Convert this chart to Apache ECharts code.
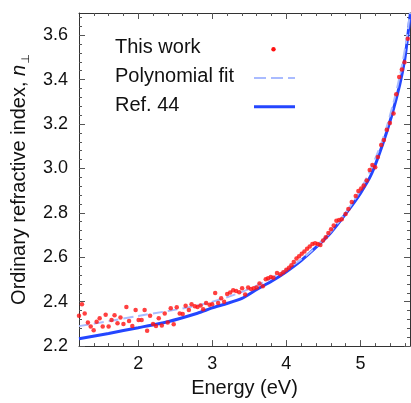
<!DOCTYPE html>
<html><head><meta charset="utf-8">
<script src="https://cdn.jsdelivr.net/npm/echarts@6/dist/echarts.min.js"></script>
<style>html,body{margin:0;padding:0;background:#fff}#c{width:411px;height:403px}</style>
</head><body><div id="c"></div>
<script>
// This work (measured points)
const workE = [1.200,1.240,1.277,1.320,1.358,1.398,1.438,1.479,1.520,1.560,1.600,1.640,1.680,1.720,1.760,1.800,1.840,1.876,1.920,1.965,
2.005,2.046,2.086,2.120,2.160,2.200,2.240,2.277,2.318,2.358,2.398,2.439,2.479,2.520,2.560,2.600,2.640,2.684,2.720,2.765,
2.800,2.842,2.877,2.917,2.963,2.998,3.039,3.079,3.120,3.160,3.201,3.241,3.282,3.322,3.363,3.403,3.444,3.484,3.524,3.560,
3.600,3.637,3.682,3.722,3.753,3.790,3.825,3.874,3.920,3.960,4.000,4.036,4.068,4.100,4.137,4.172,4.208,4.244,4.280,4.316,
4.352,4.388,4.424,4.460,4.496,4.532,4.568,4.604,4.640,4.676,4.712,4.748,4.800,4.838,4.883,4.937,4.973,5.010,5.045,5.085,
5.126,5.162,5.200,5.236,5.281,5.317,5.357,5.398,5.448,5.484,5.524,5.560,5.596,5.640];
const workN = [2.337,2.388,2.347,2.306,2.288,2.271,2.310,2.325,2.288,2.341,2.288,2.317,2.339,2.303,2.329,2.300,2.376,2.313,2.291,2.363,
2.317,2.317,2.363,2.269,2.337,2.300,2.291,2.325,2.293,2.347,2.306,2.370,2.298,2.375,2.347,2.344,2.382,2.363,2.388,2.379,
2.376,2.383,2.366,2.394,2.386,2.389,2.439,2.394,2.416,2.400,2.435,2.441,2.451,2.448,2.442,2.461,2.432,2.464,2.457,2.460,
2.464,2.482,2.469,2.501,2.505,2.511,2.508,2.529,2.523,2.532,2.544,2.553,2.564,2.579,2.594,2.605,2.616,2.626,2.638,2.648,
2.660,2.663,2.660,2.655,2.676,2.690,2.709,2.726,2.743,2.764,2.768,2.771,2.795,2.817,2.849,2.876,2.898,2.910,2.923,2.946,
2.993,3.015,3.005,3.052,3.106,3.128,3.174,3.205,3.247,3.334,3.412,3.446,3.478,3.584];
// Polynomial fit
const fitE = [1.2,1.6,2.0,2.4,2.8,3.2,3.6,4.0,4.3,4.6,4.9,5.1,5.3,5.45,5.55,5.62,5.67];
const fitN = [2.290,2.312,2.336,2.358,2.383,2.420,2.472,2.545,2.617,2.715,2.848,2.968,3.130,3.300,3.445,3.575,3.700];
// Ref. 44
const refE = [1.2,1.6,2.0,2.4,2.8,3.0,3.2,3.4,3.6,3.8,4.0,4.2,4.45,4.6,4.8,5.0,5.15,5.3,5.42,5.53,5.6,5.64,5.675];
const refN = [2.233,2.257,2.283,2.310,2.348,2.372,2.392,2.415,2.455,2.492,2.535,2.585,2.660,2.710,2.795,2.888,2.975,3.108,3.235,3.375,3.493,3.596,3.700];
// Ticks
const xMajor = [2,3,4,5];
const xMinor = [1.4,1.6,1.8,2.2,2.4,2.6,2.8,3.2,3.4,3.6,3.8,4.2,4.4,4.6,4.8,5.2,5.4,5.6];
const yMajor = [2.2,2.4,2.6,2.8,3.0,3.2,3.4,3.6];
const yMinor = [2.24,2.28,2.32,2.36,2.44,2.48,2.52,2.56,2.64,2.68,2.72,2.76,2.84,2.88,2.92,2.96,
3.04,3.08,3.12,3.16,3.24,3.28,3.32,3.36,3.44,3.48,3.52,3.56,3.64,3.68];
const xMin = 1.2, xMax = 5.67, yMin = 2.2, yMax = 3.7;

const zip = (a, b) => a.map((v, i) => [v, b[i]]);
const FONT = '"Liberation Sans", Arial, Helvetica, sans-serif';
const axisColor = '#333';
const tickColor = '#555';

function xAx(pos, major, labels) {
  return {
    type: 'value', position: pos, min: xMin, max: xMax,
    axisLine: { show: major, onZero: false, lineStyle: { color: axisColor, width: 1 } },
    axisTick: { show: true, inside: true, length: major ? 6 : 3, customValues: major ? xMajor : xMinor,
      lineStyle: { color: tickColor, width: 1 } },
    axisLabel: { show: labels, customValues: xMajor, fontSize: 18, color: '#111', fontFamily: FONT, margin: 9 },
    splitLine: { show: false },
    name: labels ? 'Energy (eV)' : '', nameLocation: 'middle', nameGap: 31,
    nameTextStyle: { fontSize: 20, color: '#111', fontFamily: FONT }
  };
}
function yAx(pos, major, labels) {
  return {
    type: 'value', position: pos, min: yMin, max: yMax,
    axisLine: { show: major, onZero: false, lineStyle: { color: axisColor, width: 1 } },
    axisTick: { show: true, inside: true, length: major ? 6 : 3, customValues: major ? yMajor : yMinor,
      lineStyle: { color: tickColor, width: 1 } },
    axisLabel: { show: labels, customValues: yMajor, fontSize: 18, color: '#111', fontFamily: FONT, margin: 11,
      formatter: v => v.toFixed(1) },
    splitLine: { show: false },
    name: labels ? '{t|Ordinary refractive index, }{i|n}{s|⊥}' : '', nameLocation: 'middle', nameGap: 44,
    nameRotate: 90,
    nameTextStyle: { fontSize: 20, color: '#111', fontFamily: FONT,
      rich: {
        t: { fontSize: 20, fontFamily: FONT, color: '#111', verticalAlign: 'bottom', padding: [0, 0, 3, 0] },
        i: { fontSize: 20, fontFamily: FONT, fontStyle: 'italic', color: '#111', verticalAlign: 'bottom', padding: [0, 0, 3, 0] },
        s: { fontSize: 11, fontFamily: '"DejaVu Sans", sans-serif', color: '#111', verticalAlign: 'bottom', padding: [0, 0, 0, 1] }
      } }
  };
}

const chart = echarts.init(document.getElementById('c'), null, { renderer: 'canvas' });
chart.setOption({
  animation: false,
  backgroundColor: '#fff',
  grid: { left: 79, right: 1, top: 13, bottom: 50, containLabel: false },
  xAxis: [xAx('bottom', true, true), xAx('bottom', false, false), xAx('top', true, false), xAx('top', false, false)],
  yAxis: [yAx('left', true, true), yAx('left', false, false), yAx('right', true, false), yAx('right', false, false)],
  series: [
    { name: 'Ref. 44', type: 'line', data: zip(refE, refN), showSymbol: false, smooth: 0.2,
      lineStyle: { color: '#2446ff', width: 3 }, z: 2 },
    { name: 'Polynomial fit', type: 'line', data: zip(fitE, fitN), showSymbol: false, smooth: 0.3,
      lineStyle: { color: '#a9bbff', width: 2, type: [10, 5] }, z: 3 },
    { name: 'This work', type: 'scatter', data: zip(workE, workN), symbol: 'circle', symbolSize: 4.5,
      itemStyle: { color: '#ff1010' }, z: 4 }
  ],
  graphic: [
    { type: 'text', x: 115, y: 47, style: { text: 'This work', font: '20px ' + FONT, fill: '#111', verticalAlign: 'middle' } },
    { type: 'circle', shape: { cx: 273.5, cy: 49.3, r: 2.2 }, style: { fill: '#ff1010' } },
    { type: 'text', x: 115, y: 76, style: { text: 'Polynomial fit', font: '20px ' + FONT, fill: '#111', verticalAlign: 'middle' } },
    { type: 'line', shape: { x1: 254, y1: 78, x2: 295, y2: 78 }, style: { stroke: '#a9bbff', lineWidth: 2, lineDash: [12, 5] } },
    { type: 'text', x: 115, y: 105, style: { text: 'Ref. 44', font: '20px ' + FONT, fill: '#111', verticalAlign: 'middle' } },
    { type: 'line', shape: { x1: 254, y1: 106.7, x2: 295, y2: 106.7 }, style: { stroke: '#2446ff', lineWidth: 3 } }
  ]
});
</script></body></html>
